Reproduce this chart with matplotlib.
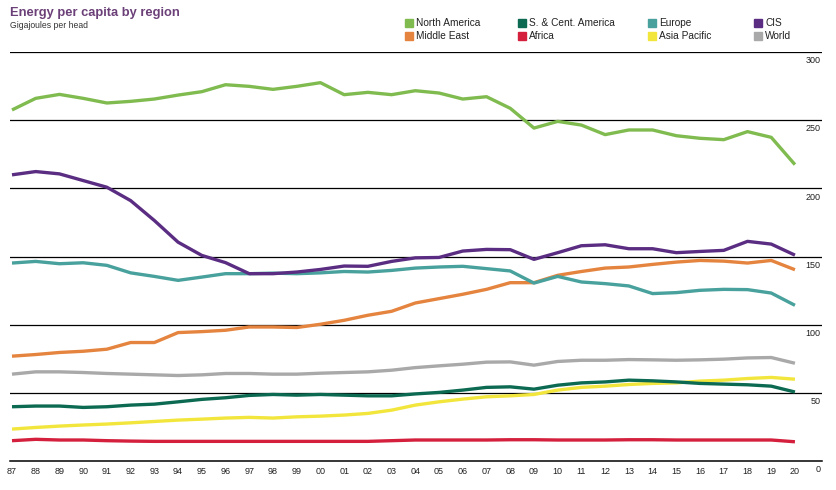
import matplotlib
matplotlib.use("Agg")
import matplotlib.pyplot as plt
from matplotlib.patches import Rectangle

plt.rcParams['font.family'] = ['Liberation Sans', 'DejaVu Sans']

years = ['87', '88', '89', '90', '91', '92', '93', '94', '95', '96', '97', '98',
         '99', '00', '01', '02', '03', '04', '05', '06', '07', '08', '09', '10',
         '11', '12', '13', '14', '15', '16', '17', '18', '19', '20']

north_america = [257.5, 266, 268.9, 266, 262.6, 263.8, 265.5, 268.4, 270.9, 276, 274.8, 272.6,
                 274.8, 277.5, 268.7, 270.4, 268.7, 271.6, 269.9, 265.5, 267.2, 258.7, 244.2, 249.1,
                 246.4, 239.4, 242.8, 242.8, 238.6, 236.7, 235.7, 241.6, 237.4, 217.4]
cis = [209.9, 212.3, 210.6, 205.7, 200.8, 191, 176.4, 160.5, 150.8, 145.5, 137.4, 137.4,
       138.6, 140.5, 143, 142.8, 146.4, 149.0, 149.3, 154, 155.2, 155, 147.9, 152.8,
       157.9, 158.6, 155.7, 155.7, 152.8, 153.7, 154.5, 161.1, 159.1, 151.0]
europe = [145.2, 146.4, 144.7, 145.4, 143.5, 138, 135.4, 132.5, 134.9, 137.4, 137.4, 137.8,
          137.4, 138, 139, 138.6, 139.8, 141.5, 142.3, 142.8, 141.1, 139.4, 130.5, 135.4,
          131.3, 130.1, 128.4, 122.8, 123.5, 125.2, 125.9, 125.7, 123.2, 114.2]
middle_east = [76.9, 78.1, 79.6, 80.5, 82, 86.9, 86.9, 94.2, 94.9, 95.9, 98.3, 98.3,
               97.9, 100.3, 103.2, 106.9, 109.8, 115.9, 119.1, 122.3, 125.9, 130.8, 130.8, 136.2,
               139, 141.5, 142.3, 144.2, 145.9, 147.1, 146.6, 145.2, 147.1, 140.3]
world = [63.7, 65.4, 65.4, 64.9, 64.2, 63.7, 63.2, 62.7, 63.2, 64.2, 64.2, 63.7,
         63.7, 64.4, 64.9, 65.4, 66.6, 68.5, 69.8, 71, 72.5, 72.7, 70.3, 73,
         73.9, 73.9, 74.4, 74.2, 73.9, 74.2, 74.7, 75.6, 75.9, 71.7]
sc_america = [39.8, 40.3, 40.3, 39.3, 39.8, 41, 41.7, 43.4, 45.2, 46.4, 48.1, 48.8,
              48.3, 48.8, 48.3, 47.8, 47.8, 49.2, 50.3, 52, 54, 54.4, 52.7, 55.6,
              57.3, 58, 59.3, 58.8, 58, 56.9, 56.4, 55.9, 54.9, 50.6]
asia_pacific = [23.4, 24.6, 25.6, 26.4, 27.1, 28, 29, 30, 30.7, 31.5, 32, 31.5,
                32.4, 32.9, 33.7, 34.9, 37.3, 41, 43.4, 45.4, 47.1, 47.8, 48.8, 52,
                54, 54.9, 56.1, 56.9, 57.3, 58.6, 59.3, 60.5, 61.3, 60]
africa = [14.9, 15.9, 15.4, 15.4, 14.9, 14.6, 14.4, 14.4, 14.4, 14.4, 14.4, 14.4,
          14.4, 14.4, 14.4, 14.4, 14.9, 15.4, 15.4, 15.4, 15.4, 15.6, 15.6, 15.4,
          15.4, 15.4, 15.6, 15.6, 15.4, 15.4, 15.4, 15.4, 15.4, 14.1]

yticks = [0, 50, 100, 150, 200, 250, 300]

colors = {
    'North America': '#80bb50',
    'S. & Cent. America': '#0d6a52',
    'Europe': '#48a19c',
    'CIS': '#5a2d82',
    'Middle East': '#e5843e',
    'Africa': '#d4203d',
    'Asia Pacific': '#f2e63c',
    'World': '#a9a9a9',
}

W, H = 836, 490
fig = plt.figure(figsize=(W / 100, H / 100), dpi=100)
ax = fig.add_axes([10 / W, 29 / H, 812 / W, 409 / H])

x = list(range(len(years)))
series = [
    ('Africa', africa), ('World', world), ('Asia Pacific', asia_pacific),
    ('S. & Cent. America', sc_america), ('Middle East', middle_east),
    ('Europe', europe), ('CIS', cis), ('North America', north_america),
]
for name, vals in series:
    ax.plot(x, vals, color=colors[name], lw=2.4, solid_capstyle='butt',
            solid_joinstyle='round', zorder=3)

for v in yticks[1:]:
    ax.axhline(v, color='black', lw=0.9, zorder=1)
for v in yticks:
    ax.annotate(str(v), xy=(1.0, v), xycoords=ax.get_yaxis_transform(),
                xytext=(-1, -3), textcoords='offset points',
                ha='right', va='top', fontsize=6.5, color='#222222')

ax.set_ylim(0, 300)
ax.set_xlim(-0.084, 34.14)
ax.set_yticks([])
ax.set_xticks(x)
ax.set_xticklabels(years, fontsize=6.5, color='#222222')
ax.tick_params(axis='x', length=0, pad=4)
for s in ['top', 'left', 'right']:
    ax.spines[s].set_visible(False)
ax.spines['bottom'].set_linewidth(1.1)

fig.text(10 / W, 1 - 13 / H, 'Energy per capita by region', fontsize=9.3,
         fontweight='bold', color='#6b3f78', va='center', ha='left')
fig.text(10 / W, 1 - 26 / H, 'Gigajoules per head', fontsize=6.2,
         color='#333333', va='center', ha='left')

# legend: two rows, four columns
legend_cols = [['North America', 'Middle East'], ['S. & Cent. America', 'Africa'],
               ['Europe', 'Asia Pacific'], ['CIS', 'World']]
col_x = [405, 518, 648, 754]
row_y = [23, 36]
for cx, names in zip(col_x, legend_cols):
    for ry, name in zip(row_y, names):
        fig.patches.append(Rectangle((cx / W, 1 - (ry + 4) / H), 8 / W, 8 / H,
                                     transform=fig.transFigure, color=colors[name]))
        fig.text((cx + 11) / W, 1 - ry / H, name, fontsize=7.3, color='#222222',
                 va='center', ha='left')

fig.savefig('out.png', dpi=100)
